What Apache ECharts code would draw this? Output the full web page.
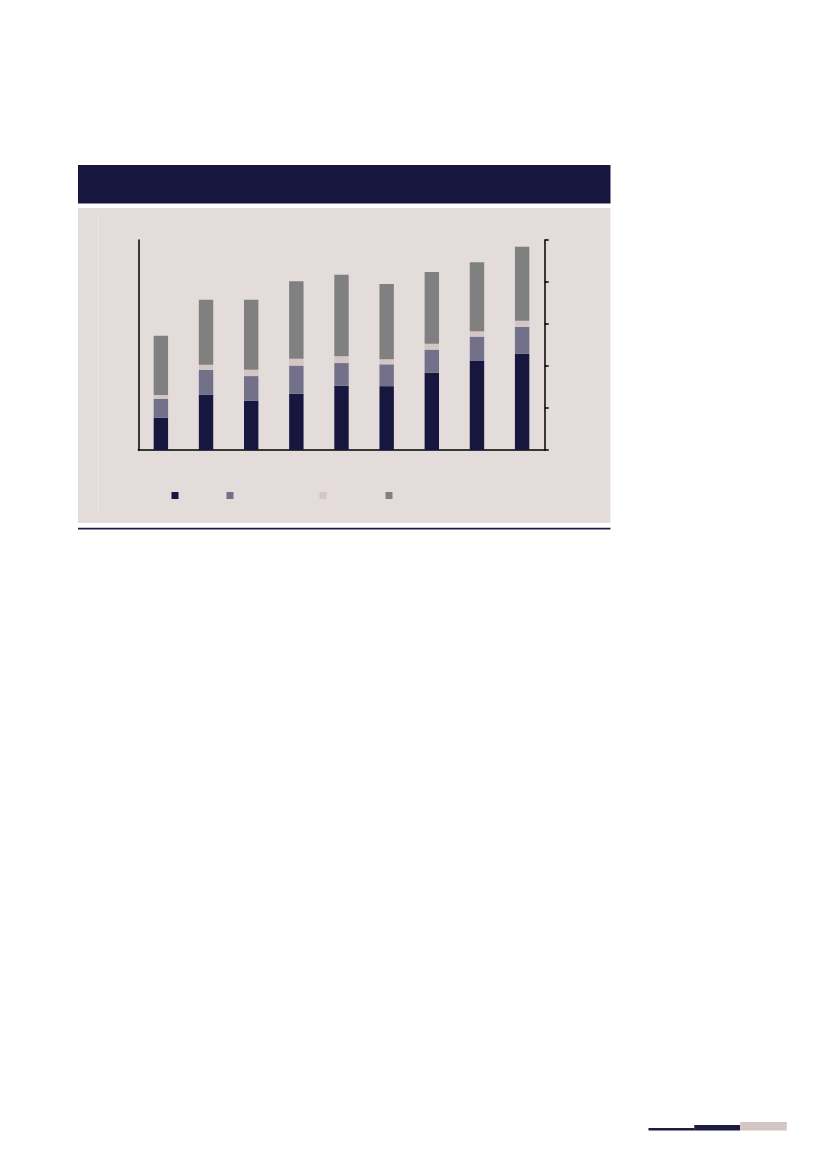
<!DOCTYPE html>
<html>
<head>
<meta charset="utf-8">
<script src="https://cdn.jsdelivr.net/npm/echarts@6/dist/echarts.min.js"></script>
<style>
html,body{margin:0;padding:0;background:#ffffff;}
#chart{width:827px;height:1169px;}
</style>
</head>
<body>
<div id="chart"></div>
<script>
var categories = ['1', '2', '3', '4', '5', '6', '7', '8', '9'];
var seriesNames = ['Series 1', 'Series 2', 'Series 3', 'Series 4'];
var series1 = [7.7, 13.2, 11.7, 13.4, 15.3, 15.2, 18.4, 21.3, 22.9];
var series2 = [4.5, 5.9, 5.9, 6.7, 5.4, 5.2, 5.5, 5.7, 6.4];
var series3 = [0.9, 1.2, 1.5, 1.6, 1.6, 1.2, 1.4, 1.3, 1.5];
var series4 = [14.1, 15.5, 16.7, 18.5, 19.4, 17.9, 17.1, 16.4, 17.6];
var axisTicks = [0, 10, 20, 30, 40, 50];

var colors = ['#16163e', '#727189', '#d3c6c4', '#808080'];
var allData = [series1, series2, series3, series4];

var chart = echarts.init(document.getElementById('chart'), null, {renderer: 'canvas'});

var legendLefts = [171.5, 226.5, 319.5, 385.5];
var legends = seriesNames.map(function (n, i) {
  return {
    data: [n],
    left: legendLefts[i],
    top: 492,
    icon: 'rect',
    itemWidth: 7,
    itemHeight: 7,
    itemGap: 0,
    padding: 0,
    selectedMode: false,
    formatter: function () { return ''; },
    textStyle: {fontSize: 1, padding: 0}
  };
});

var option = {
  animation: false,
  backgroundColor: '#ffffff',
  graphic: [
    {type: 'rect', z: -10, shape: {x: 78, y: 165, width: 532.5, height: 38.5}, style: {fill: '#16163e'}},
    {type: 'rect', z: -10, shape: {x: 78, y: 208, width: 532.5, height: 315}, style: {fill: '#e3dcda'}},
    {type: 'line', z: -9, shape: {x1: 98.3, y1: 216, x2: 98.3, y2: 515}, style: {stroke: '#ece7e5', lineWidth: 1}},
    {type: 'rect', z: -10, shape: {x: 78, y: 527.8, width: 532.5, height: 1.6}, style: {fill: '#1c1b48'}},
    {type: 'rect', z: -10, shape: {x: 648.5, y: 1128, width: 46, height: 2.6}, style: {fill: '#1c1b40'}},
    {type: 'rect', z: -10, shape: {x: 694.3, y: 1125, width: 45.9, height: 5.6}, style: {fill: '#1c1b40'}},
    {type: 'rect', z: -10, shape: {x: 740.2, y: 1122, width: 46.6, height: 8.6}, style: {fill: '#d3c5c3'}}
  ],
  legend: legends,
  grid: {left: 138.3, right: 827 - 544.7, top: 240, bottom: 1169 - 450},
  xAxis: {
    type: 'category',
    data: categories,
    axisLine: {show: true, lineStyle: {color: '#000000', width: 1.5}},
    axisTick: {show: false},
    axisLabel: {show: false},
    splitLine: {show: false}
  },
  yAxis: [
    {
      type: 'value',
      position: 'left',
      min: axisTicks[0],
      max: axisTicks[axisTicks.length - 1],
      interval: 10,
      axisLine: {show: true, lineStyle: {color: '#000000', width: 1.5}},
      axisTick: {show: false},
      axisLabel: {show: false},
      splitLine: {show: false}
    },
    {
      type: 'value',
      position: 'right',
      min: axisTicks[0],
      max: axisTicks[axisTicks.length - 1],
      interval: 10,
      axisLine: {show: true, lineStyle: {color: '#000000', width: 1.5}},
      axisTick: {show: true, inside: false, length: 4, lineStyle: {color: '#000000', width: 1.5}},
      axisLabel: {show: false},
      splitLine: {show: false}
    }
  ],
  series: allData.map(function (d, i) {
    return {
      name: seriesNames[i],
      type: 'bar',
      stack: 'total',
      yAxisIndex: 1,
      barWidth: 14.4,
      data: d,
      itemStyle: {color: colors[i]}
    };
  })
};

chart.setOption(option);
</script>
</body>
</html>
